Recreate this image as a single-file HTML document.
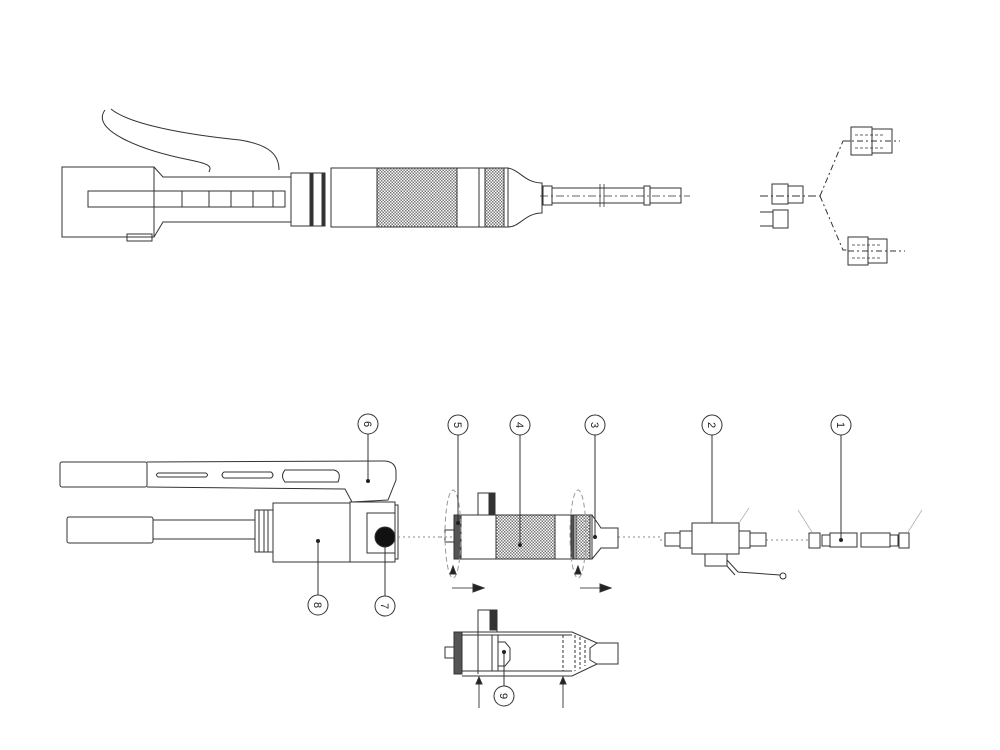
<!DOCTYPE html>
<html><head><meta charset="utf-8"><style>
html,body{margin:0;padding:0;background:#fff;}
svg{display:block;}
text{font-family:"Liberation Sans",sans-serif;font-size:11px;fill:#222;}
</style></head><body>
<svg width="1000" height="750" viewBox="0 0 1000 750" xmlns="http://www.w3.org/2000/svg">
<defs>
<pattern id="kn" width="3" height="3" patternUnits="userSpaceOnUse">
<rect width="3" height="3" fill="#fff"/>
<rect width="1.5" height="1.5" fill="#777"/><rect x="1.5" y="1.5" width="1.5" height="1.5" fill="#777"/>
</pattern>
</defs>
<g fill="none" stroke="#333" stroke-width="1">
<!-- TOP TOOL -->
<path d="M105,110 C90,130 140,150 190,160 C215,165 210,168 209,172"/>
<path d="M111,109 C130,125 190,135 240,140 C270,145 279,155 279,170"/>
<rect x="62" y="167" width="92" height="70" fill="#fff"/>
<path d="M154,167 L163,177 L291,177 L291,222 L163,222 L154,237"/>
<rect x="88" y="191" width="197" height="16"/>
<path d="M182,191V207M209,191V207M231,191V207M253,191V207M273,191V207"/>
<rect x="127" y="234" width="25" height="7"/>
<rect x="291" y="173" width="34" height="53"/>
<rect x="310" y="173" width="3" height="53" fill="#333"/>
<rect x="322" y="173" width="3" height="53" fill="#333"/>
<rect x="331" y="168" width="177" height="59"/>
<rect x="377" y="168" width="80" height="59" fill="url(#kn)"/>
<path d="M479,168V227"/>
<rect x="485" y="168" width="19" height="59" fill="url(#kn)"/>
<path d="M508,168 C520,170 525,183 542,183 V213 C525,213 520,227 508,227"/>
<rect x="543" y="186" width="9" height="19"/>
<rect x="552" y="188" width="92" height="15"/>
<path d="M600,184V207M604,184V207" stroke-width="0.8"/>
<rect x="644" y="186" width="6" height="19"/>
<rect x="650" y="188" width="31" height="15"/>
<path d="M540,196H690" stroke-dasharray="8,3,2,3" stroke-width="0.8"/>
<!-- TOP RIGHT -->
<path d="M760,196H820" stroke-dasharray="8,3,2,3"/>
<rect x="772" y="184" width="16" height="20"/><rect x="788" y="186" width="15" height="17"/>
<path d="M760,212H773M760,226H773"/><rect x="773" y="210" width="15" height="18"/>
<path d="M820,196 L843,141 H851 M820,196 L843,250 H848" stroke-dasharray="6,3,2,3"/>
<rect x="851" y="127" width="21" height="28"/><rect x="872" y="129" width="20" height="24"/>
<path d="M855,135H885M855,148H885" stroke-dasharray="3,2" stroke-width="0.8"/>
<path d="M843,141H900" stroke-dasharray="6,3,2,3"/>
<rect x="848" y="237" width="20" height="28"/><rect x="868" y="239" width="19" height="24"/>
<path d="M852,245H882M852,258H882" stroke-dasharray="3,2" stroke-width="0.8"/>
<path d="M848,251H905" stroke-dasharray="6,3,2,3"/>
<!-- HANDLE 6 -->
<rect x="60" y="462" width="87" height="25" rx="2" fill="#fff"/>
<path d="M147,462 L385,461 Q396,462 396,472 L396,480 L388,500 L352,502 L345,489 L147,487"/>
<path d="M158,473 H206 Q209,475 206,477 H158 Q155,475 158,473Z"/>
<path d="M224,472 H271 Q275,475 271,478 H224 Q220,475 224,472Z"/>
<path d="M285,470 H334 Q342,472 338,482 H285 Q280,476 285,470Z"/>
<!-- lower handle / body 8 -->
<rect x="67" y="517" width="86" height="26" rx="2"/>
<rect x="153" y="520" width="102" height="19"/>
<rect x="255" y="510" width="18" height="42"/>
<path d="M259,510V552M264,510V552M268,510V552"/>
<rect x="273" y="503" width="77" height="59"/>
<rect x="350" y="502" width="45" height="60"/>
<rect x="395" y="505" width="3" height="54"/>
<rect x="367" y="513" width="28" height="40"/>
<circle cx="385" cy="537" r="10" fill="#111"/>
<path d="M398,537H440" stroke-dasharray="2,3" stroke="#888"/>
<!-- parts 5,4,3 -->
<path d="M440,537H454M618,537H660" stroke-dasharray="2,3" stroke="#888"/>
<rect x="445" y="530" width="9" height="12"/>
<rect x="454" y="515" width="7" height="44" fill="#555"/>
<rect x="461" y="515" width="131" height="44"/>
<rect x="496" y="515" width="59" height="44" fill="url(#kn)"/>
<rect x="571" y="515" width="3" height="44" fill="#555"/>
<rect x="576" y="515" width="14" height="44" fill="url(#kn)"/>
<path d="M592,515 L601,528 H618 V548 H601 L592,559"/>
<rect x="478" y="493" width="17" height="22"/><rect x="489" y="493" width="6" height="22" fill="#333"/>
<ellipse cx="453" cy="534" rx="8" ry="44" stroke-dasharray="5,3" stroke="#999"/>
<ellipse cx="578" cy="534" rx="8" ry="44" stroke-dasharray="5,3" stroke="#999"/>
<path d="M453,566 l-3,8 h6z M578,566 l-3,8 h6z" fill="#222"/>
<path d="M452,588H474M580,588H602" stroke="#555"/>
<path d="M484,588 l-11,-4 v8z M611,588 l-11,-4 v8z" fill="#222"/>
<!-- section view -->
<rect x="445" y="647" width="9" height="11"/>
<rect x="454" y="632" width="8" height="42" fill="#555"/>
<path d="M462,632 H572 L597,643 H618 V664 H597 L572,676 H462"/>
<path d="M462,635H572M462,671H572M478,632V674M492,635V671M498,635V671M498,642 L505,642 L510,648 V660 L505,666 H498"/>
<path d="M563,635V671M575,635V671M580,637V669M585,640V666" stroke-dasharray="3,2"/>
<path d="M597,643 L590,648 V660 L597,664"/>
<rect x="478" y="610" width="19" height="22"/><rect x="490" y="610" width="7" height="20" fill="#333"/>
<path d="M479,708V682M563,708V682" stroke="#444"/>
<path d="M479,677 l-3,7 h6z M563,677 l-3,7 h6z" fill="#222"/>
<!-- valve 2 -->
<path d="M660,540H665M766,540H809" stroke-dasharray="2,3" stroke="#888"/>
<rect x="665" y="533" width="15" height="13"/><rect x="680" y="531" width="12" height="17"/>
<rect x="692" y="523" width="47" height="31"/>
<rect x="739" y="531" width="11" height="17"/><rect x="750" y="533" width="16" height="13"/>
<rect x="705" y="554" width="22" height="12"/>
<path d="M727,560 L738,572 L780,575 M727,566 L735,575"/>
<circle cx="783" cy="576" r="3"/>
<path d="M749,508L739,523M798,510L812,532M922,510L908,532" stroke="#aaa" stroke-width="0.7"/>
<!-- hose 1 -->
<rect x="809" y="533" width="11" height="15"/><rect x="822" y="535" width="8" height="11"/>
<rect x="830" y="533" width="27" height="14"/><rect x="861" y="533" width="29" height="14"/>
<rect x="890" y="535" width="8" height="11"/><rect x="899" y="533" width="10" height="15"/>
<!-- callouts -->
<path d="M368,433V481M458,434V523M520,434V545M595,434V537M318,541V596M385,547V597M504,652V688M712,435V523M841,435V540" stroke="#333"/>
</g>
<g fill="#222">
<circle cx="368" cy="481" r="2"/><circle cx="458" cy="523" r="2"/><circle cx="520" cy="545" r="2"/>
<circle cx="595" cy="537" r="2"/><circle cx="318" cy="541" r="2"/><circle cx="504" cy="652" r="2"/><circle cx="841" cy="540" r="2"/>
</g>
<g fill="#fff" stroke="#333">
<circle cx="368" cy="424" r="10"/><circle cx="458" cy="425" r="10"/><circle cx="520" cy="425" r="10"/>
<circle cx="595" cy="425" r="10"/><circle cx="318" cy="605" r="10"/><circle cx="385" cy="606" r="10"/>
<circle cx="504" cy="696" r="10"/><circle cx="712" cy="425" r="10"/><circle cx="841" cy="425" r="10"/>
</g>
<g text-anchor="middle">
<text transform="translate(368,424) rotate(90)" y="4">6</text>
<text transform="translate(458,425) rotate(90)" y="4">5</text>
<text transform="translate(520,425) rotate(90)" y="4">4</text>
<text transform="translate(595,425) rotate(90)" y="4">3</text>
<text transform="translate(318,605) rotate(90)" y="4">8</text>
<text transform="translate(385,606) rotate(90)" y="4">7</text>
<text transform="translate(504,696) rotate(90)" y="4">9</text>
<text transform="translate(712,425) rotate(90)" y="4">2</text>
<text transform="translate(841,425) rotate(90)" y="4">1</text>
</g>
</svg>
</body></html>
